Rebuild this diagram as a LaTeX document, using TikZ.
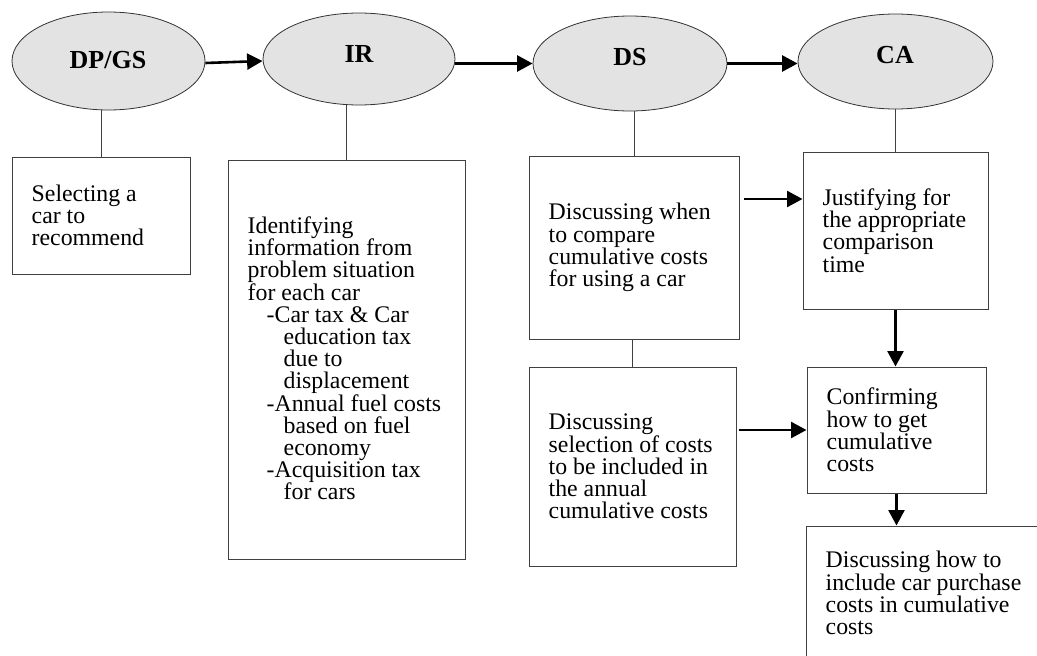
\documentclass[tikz,border=0pt]{standalone}
\usepackage{fontspec}
\setmainfont{Liberation Serif}
\usetikzlibrary{shapes.geometric,arrows.meta,calc}
\begin{document}
\begin{tikzpicture}[x=1pt,y=-1pt,
 ell/.style={ellipse,draw=black!80,line width=0.8pt,fill=black!11,inner sep=0pt},
 lab/.style={anchor=base,font=\fontsize{26}{30}\selectfont\bfseries,inner sep=0pt},
 boxn/.style={rectangle,draw=black!75,line width=1pt,inner sep=0pt},
 txt/.style={anchor=west,align=left,inner sep=0pt,font=\fontsize{23.8}{22.2}\selectfont},
 link/.style={draw=black!75,line width=0.9pt},
 arr/.style={line width=2.6pt,-{Triangle[length=15.5pt,width=16pt]}},
]
\useasboundingbox[fill=white] (0,0) rectangle (1037,656);

% phase ellipses
\node[ell,minimum width=193pt,minimum height=98pt] (dp) at (108.5,61) {};
\node[ell,minimum width=192pt,minimum height=92pt] (ir) at (359,59) {};
\node[ell,minimum width=194pt,minimum height=95pt] (ds) at (630,63.5) {};
\node[ell,minimum width=195pt,minimum height=95pt] (ca) at (895.5,61.5) {};
\node[lab] (dpl) at (108,68) {DP/GS};
\node[lab] (irl) at (359,62) {IR};
\node[lab] (dsl) at (630,65) {DS};
\node[lab] (cal) at (895,63) {CA};

% boxes
\node[boxn,minimum width=178pt,minimum height=117pt] (b1) at (101,215.5) {};
\node[boxn,minimum width=237pt,minimum height=399pt] (b2) at (346.5,359.5) {};
\node[boxn,minimum width=210pt,minimum height=183pt] (b3) at (634,247.5) {};
\node[boxn,minimum width=207pt,minimum height=199pt] (b4) at (632.5,466.5) {};
\node[boxn,minimum width=185pt,minimum height=157pt] (b5) at (895.5,230.5) {};
\node[boxn,minimum width=179pt,minimum height=126pt] (b6) at (896.5,430) {};
\node[boxn,minimum width=240pt,minimum height=134pt] (b7) at (926,593) {};

% texts
\node[txt] (t1) at ([xshift=20pt]b1.west) {Selecting a\\car to\\recommend};
\node[txt] (t2) at ([xshift=20pt,yshift=1pt]b2.west) {Identifying\\information from\\problem situation\\for each car\\
\hspace*{19pt}-Car tax \& Car\\\hspace*{36pt}education tax\\\hspace*{36pt}due to\\\hspace*{36pt}displacement\\
\hspace*{19pt}-Annual fuel costs\\\hspace*{36pt}based on fuel\\\hspace*{36pt}economy\\
\hspace*{19pt}-Acquisition tax\\\hspace*{36pt}for cars};
\node[txt] (t3) at ([xshift=20pt]b3.west) {Discussing when\\to compare\\cumulative costs\\for using a car};
\node[txt] (t4) at ([xshift=20pt]b4.west) {Discussing\\selection of costs\\to be included in\\the annual\\cumulative costs};
\node[txt] (t5) at ([xshift=20pt]b5.west) {Justifying for\\the appropriate\\comparison\\time};
\node[txt] (t6) at ([xshift=20pt]b6.west) {Confirming\\how to get\\cumulative\\costs};
\node[txt] (t7) at ([xshift=20pt]b7.west) {Discussing how to\\include car purchase\\costs in cumulative\\costs};

% thin links
\draw[link] (b1.north) -- (b1.north |- dp.south);
\draw[link] (b2.north) -- (b2.north |- ir.south);
\draw[link] (b3.north) -- (b3.north |- ds.south);
\draw[link] (b5.north) -- (b5.north |- ca.south);
\draw[link] (b4.north) -- (b4.north |- b3.south);

% arrows
\draw[arr] ([yshift=-2pt]dp.east) -- ([yshift=-2pt]ir.west);
\draw[arr] (ir.east |- ds.west) -- (ds.west);
\draw[arr] (ds.east) -- (ds.east -| ca.west);
\draw[arr] ([xshift=4pt,yshift=48.5pt]b3.east) -- ([yshift=48.5pt]b3.east -| b5.west);
\draw[arr] ([xshift=2pt]b4.east |- b6.west) -- (b6.west);
\draw[arr] (b5.south) -- (b5.south |- b6.north);
\draw[arr] (b6.south) -- (b6.south |- b7.north);
\end{tikzpicture}
\end{document}
